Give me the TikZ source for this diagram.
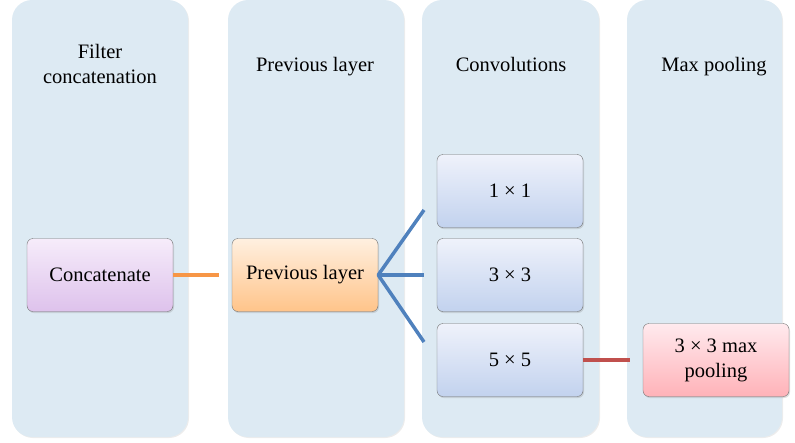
\documentclass[tikz,border=0pt]{standalone}
\usepackage{fontspec}
\setmainfont{Liberation Serif}
\usetikzlibrary{shadows}
\definecolor{lanebg}{RGB}{221,234,243}
\definecolor{lineorange}{RGB}{247,150,70}
\definecolor{lineblue}{RGB}{79,129,189}
\definecolor{linered}{RGB}{192,80,77}
\tikzset{
  lane/.style={fill=lanebg, rounded corners=20pt, drop shadow={opacity=0.15, shadow xshift=1pt, shadow yshift=-1pt}},
  head/.style={align=center, text=black, font=\fontsize{20.5}{25}\selectfont},
  box/.style={draw=black!55, rounded corners=6pt, minimum width=146pt, minimum height=73pt,
    align=center, text=black, font=\fontsize{20.5}{25}\selectfont,
    drop shadow={opacity=0.25, shadow xshift=1pt, shadow yshift=-1.5pt}},
  concatbox/.style={box, top color={rgb,255:red,246;green,236;blue,250}, bottom color={rgb,255:red,222;green,194;blue,236}},
  prevbox/.style={box, top color={rgb,255:red,255;green,240;blue,224}, bottom color={rgb,255:red,255;green,196;blue,138}},
  convbox/.style={box, top color={rgb,255:red,239;green,242;blue,251}, bottom color={rgb,255:red,194;green,210;blue,238}},
  poolbox/.style={box, top color={rgb,255:red,255;green,234;blue,238}, bottom color={rgb,255:red,255;green,178;blue,184}},
  link/.style={line width=3.5pt}
}
\begin{document}
\begin{tikzpicture}[x=1pt,y=-1pt]
  \useasboundingbox (0,0) rectangle (795,442);
  % lanes
  \path[lane] (12,0) rectangle (188,437);
  \path[lane] (228,0) rectangle (404,437);
  \path[lane] (422,0) rectangle (599,437);
  \path[lane] (627,0) rectangle (782,437);
  \node[head] (hconcat) at (100,64) {Filter\\concatenation};
  \node[head] (hprev) at (315,67) {Previous layer};
  \node[head] (hconv) at (511,64) {Convolutions};
  \node[head] (hpool) at (714,67) {Max pooling};
  % boxes
  \node[concatbox] (concat) at (100,275) {Concatenate};
  \node[prevbox] (prev) at (305,275) {Previous layer};
  \node[convbox] (conv1) at (510,191) {1 × 1};
  \node[convbox] (conv3) at (510,275) {3 × 3};
  \node[convbox] (conv5) at (510,360) {5 × 5};
  \node[poolbox] (pool) at (716,360) {3 × 3 max\\pooling};
  % loose ends
  \coordinate (oend) at (219,275);
  \coordinate (b1) at (424,210); \coordinate (b3) at (424,275); \coordinate (b5) at (424,342);
  \coordinate (rend) at (630,360);
  \draw[link, lineorange] (concat.east) -- (oend);
  \draw[link, lineblue, line join=round] (b1) -- (prev.east) -- (b5);
  \draw[link, lineblue] (prev.east) -- (b3);
  \draw[link, linered] (conv5.east) -- (rend);
\end{tikzpicture}
\end{document}
